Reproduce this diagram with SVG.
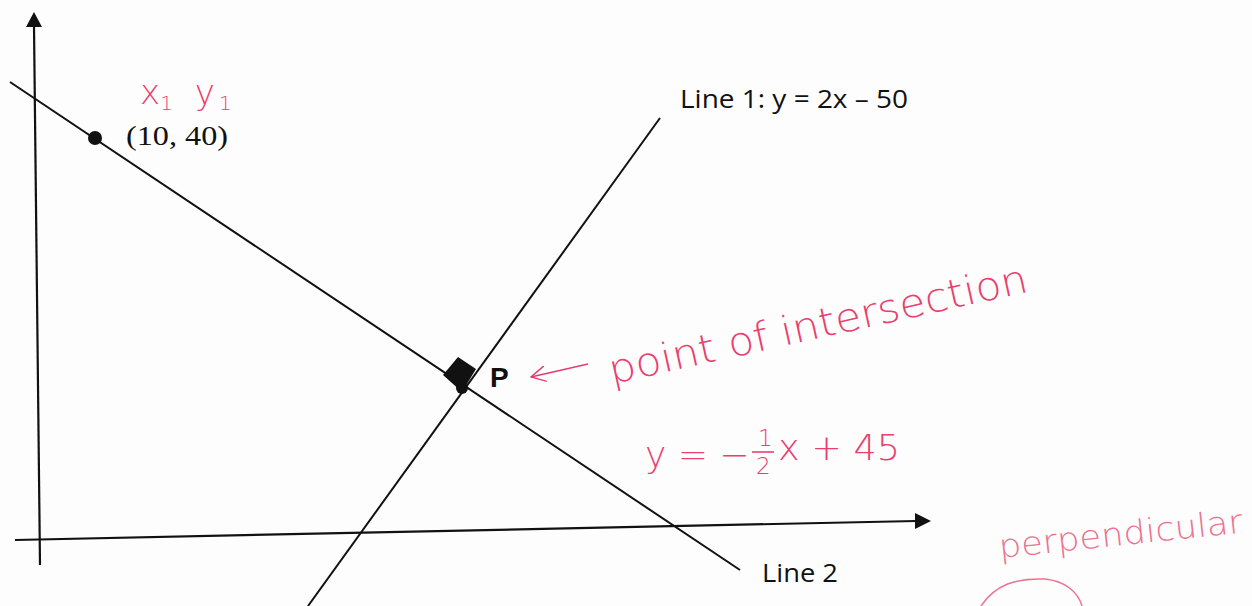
<svg xmlns="http://www.w3.org/2000/svg" width="1252" height="606" viewBox="0 0 1252 606">
<style>
.ax{stroke:#111;stroke-width:2.2;fill:none}
.ln{stroke:#111;stroke-width:2;fill:none}
.lbl{font-family:"Open Sans","Liberation Sans",sans-serif;font-size:25px;fill:#111}
.redt{font-family:"DejaVu Sans","Liberation Sans",sans-serif;font-weight:200;fill:#ea3f6e}
.pink{font-family:"DejaVu Sans","Liberation Sans",sans-serif;font-weight:200;fill:#ec7390}
</style>
<defs>
<marker id="ahL" viewBox="0 0 16 16" markerWidth="16" markerHeight="16" refX="15" refY="8" orient="auto" markerUnits="userSpaceOnUse">
<path d="M0,0 L15,8 L0,16" fill="none" stroke="#e83a6c" stroke-width="1.4"/>
</marker>
</defs>
<rect width="1252" height="606" fill="#fdfdfd"/>
<g id="axes">
<line class="ax" x1="40" y1="565" x2="34" y2="26"/>
<path d="M34,12 L26,27 L42,27 Z" fill="#111"/>
<line class="ax" x1="15" y1="540" x2="916" y2="521"/>
<path d="M931,521 L915,513 L915,529 Z" fill="#111"/>
</g>
<g id="connectors">
<line id="line2" class="ln" x1="10" y1="82" x2="740" y2="570"/>
<line id="line1" class="ln" x1="660" y1="118" x2="308" y2="606"/>
<line id="arrow" x1="588" y1="364" x2="531" y2="377" stroke="#e83a6c" stroke-width="1.4" marker-end="url(#ahL)"/>
</g>
<g id="point-x1y1">
<circle cx="95" cy="138" r="7" fill="#111"/>
<text x="126" y="145" font-family="Liberation Serif, serif" font-size="28" fill="#111" textLength="102" lengthAdjust="spacingAndGlyphs">(10, 40)</text>
<text x="140" y="104" class="redt" font-size="34">x<tspan font-size="20" dy="6">1</tspan><tspan dy="-6" dx="22">y</tspan><tspan font-size="20" dy="6" dx="4">1</tspan></text>
</g>
<g id="point-P">
<path d="M458,357 L476,369 L462,392 L443,375 Z" fill="#111"/>
<circle cx="462" cy="388" r="6" fill="#111"/>
<text x="490" y="387" font-family="Liberation Sans, sans-serif" font-weight="bold" font-size="28" fill="#111">P</text>
</g>
<g id="label-line1">
<text x="680" y="108" class="lbl" textLength="228" lengthAdjust="spacingAndGlyphs">Line 1: y = 2x – 50</text>
</g>
<g id="label-line2">
<text x="762" y="582" class="lbl" textLength="76" lengthAdjust="spacingAndGlyphs">Line 2</text>
</g>
<g id="note-intersection">
<text class="redt" font-size="40" transform="translate(612,384) rotate(-12.5)" textLength="428" lengthAdjust="spacingAndGlyphs">point of intersection</text>
</g>
<g id="note-equation">
<text class="redt" font-size="36" x="645" y="467">y = −</text>
<text class="redt" font-size="23" x="758" y="446">1</text>
<line x1="752" y1="452" x2="774" y2="452" stroke="#ea3f6e" stroke-width="1.6"/>
<text class="redt" font-size="23" x="756" y="474">2</text>
<text class="redt" font-size="36" x="778" y="460" textLength="122" lengthAdjust="spacingAndGlyphs">x + 45</text>
</g>
<g id="note-perpendicular">
<text class="pink" font-size="33" transform="translate(1000,558) rotate(-6)" textLength="245" lengthAdjust="spacingAndGlyphs">perpendicular</text>
<path d="M981,606 C995,585 1015,578 1045,579 C1065,581 1078,592 1082,606" fill="none" stroke="#ec7390" stroke-width="1.5"/>
</g>
</svg>
